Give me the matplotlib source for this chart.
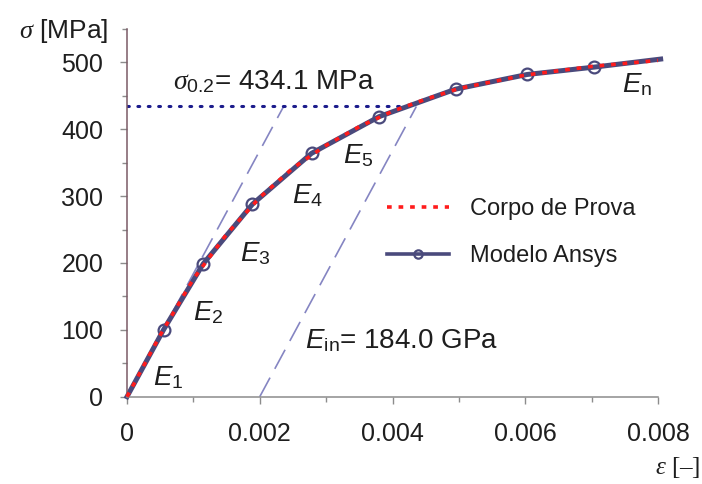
import matplotlib
matplotlib.use("Agg")
import matplotlib.pyplot as plt
from matplotlib.ticker import MultipleLocator, FuncFormatter

# Stress-strain data (strain [-], stress [MPa])
ansys_strain = [0.0, 0.00055, 0.00115, 0.00189, 0.00278, 0.0038, 0.00495, 0.00603, 0.00704, 0.00804]
ansys_stress = [0.0, 100.0, 199.0, 288.0, 364.0, 419.0, 460.0, 482.0, 493.0, 505.0]

specimen_strain = [0.0, 0.0005, 0.001, 0.0015, 0.002, 0.0025, 0.003, 0.0035, 0.004,
                   0.0045, 0.005, 0.006, 0.007, 0.008]
specimen_stress = [0.0, 92.0, 176.0, 243.0, 298.0, 342.0, 376.0, 404.0, 427.0,
                   445.0, 461.0, 481.0, 494.0, 503.0]

# Yield by the 0.2 % offset method
yield_stress = 434.1      # MPa
e_initial = 184000.0      # MPa (184.0 GPa)
offset = 0.002

x_ticks = [0.0, 0.002, 0.004, 0.006, 0.008]
x_tick_labels = ["0", "0.002", "0.004", "0.006", "0.008"]
y_ticks = [0, 100, 200, 300, 400, 500]

plt.rcParams["font.family"] = ["Liberation Sans", "DejaVu Sans"]
plt.rcParams["mathtext.fontset"] = "custom"
plt.rcParams["mathtext.rm"] = "Liberation Sans"
plt.rcParams["mathtext.it"] = "Liberation Serif:italic"
plt.rcParams["mathtext.sf"] = "Liberation Sans:italic"

fig = plt.figure(figsize=(7.02, 4.84), dpi=100)
ax = fig.add_axes([127 / 702, 1 - 396.7 / 484, (658 - 127) / 702, (396.7 - 29) / 484])

blue = "#4a4a7c"
red = "#ff1c1c"
dash_col = "#8585c2"
dot_col = "#1c1c8c"
txt_col = "#1e1e1e"

# Offset construction lines
y_end = yield_stress
ax.plot([0, y_end / e_initial], [0, y_end], color=dash_col, lw=1.2,
        dashes=(13, 6), zorder=1)
ax.plot([offset, offset + y_end / e_initial], [0, y_end], color=dash_col, lw=1.2,
        dashes=(13, 6), zorder=1)
ax.plot([0, 0.0041], [yield_stress, yield_stress], color=dot_col, lw=2.2,
        dashes=(0.6, 2.8), dash_capstyle="round", zorder=1)

# Curves
ax.plot(ansys_strain, ansys_stress, color=blue, lw=3.6, marker="o", ms=8.5,
        markevery=slice(1, -1), mfc="none", mec=blue, mew=1.6,
        label="Modelo Ansys", zorder=2, clip_on=False)
ax.plot(specimen_strain, specimen_stress, color=red, lw=2.6, dashes=(1.3, 1.9),
        label="Corpo de Prova", zorder=3, clip_on=False)

ax.set_xlim(0, 0.008)
ax.set_ylim(0, 550)
ax.set_xticks(x_ticks)
ax.xaxis.set_major_formatter(FuncFormatter(lambda v, p: x_tick_labels[x_ticks.index(round(v, 3))]
                                           if round(v, 3) in x_ticks else ""))
ax.set_yticks(y_ticks)
ax.xaxis.set_minor_locator(MultipleLocator(0.001))
ax.yaxis.set_minor_locator(MultipleLocator(50))

for s in ["top", "right"]:
    ax.spines[s].set_visible(False)
for s in ["left", "bottom"]:
    ax.spines[s].set_color("#8c8c8c")
    ax.spines[s].set_linewidth(1.1)
ax.spines["left"].set_color("#7a5a66")

ax.tick_params(which="major", length=5, width=1.0, color="#8c8c8c",
               labelsize=18, labelcolor=txt_col, direction="out")
ax.tick_params(which="minor", length=3.5, width=1.0, color="#8c8c8c", direction="out")
ax.tick_params(axis="x", which="major", pad=13)
ax.tick_params(axis="y", which="major", pad=12)

# Axis titles
fig.text(108 / 702, 1 - 31 / 484, r"$\sigma$ [MPa]", ha="right", va="center",
         fontsize=19, color=txt_col)
fig.text(700 / 702, 1 - 468 / 484, r"$\varepsilon$ [–]", ha="right", va="center",
         fontsize=18, color=txt_col, family="Liberation Serif")

# Segment labels
seg_labels = [
    (r"$\mathsf{E}_{\mathrm{1}}$", 0.000395, 17),
    (r"$\mathsf{E}_{\mathrm{2}}$", 0.0010, 115),
    (r"$\mathsf{E}_{\mathrm{3}}$", 0.0017, 203),
    (r"$\mathsf{E}_{\mathrm{4}}$", 0.00248, 289),
    (r"$\mathsf{E}_{\mathrm{5}}$", 0.00326, 350),
    (r"$\mathsf{E}_{\mathrm{n}}$", 0.00746, 455),
]
for txt, xs, ys in seg_labels:
    ax.text(xs, ys, txt, fontsize=20, color=txt_col, ha="left", va="baseline")

ax.text(0.00268, 73, r"$\mathsf{E}_{\mathrm{in}}$= %.1f GPa" % (e_initial / 1000),
        fontsize=20, color=txt_col, ha="left", va="baseline")
ax.text(0.0007, 460, r"$\sigma_{\mathrm{0.2}}$= %.1f MPa" % yield_stress,
        fontsize=20, color=txt_col, ha="left", va="baseline")

# Legend
handles, labels = ax.get_legend_handles_labels()
leg = ax.legend(handles[::-1], labels[::-1], loc="upper left",
                bbox_to_anchor=(0.49, 0.54), frameon=False, fontsize=17,
                handlelength=2.6, handletextpad=0.9, labelspacing=1.05,
                borderpad=0, borderaxespad=0)
for t in leg.get_texts():
    t.set_color(txt_col)
leg.legend_handles[1].set_markersize(6)
leg.legend_handles[1].set_linewidth(2.6)

fig.savefig("out.png", dpi=100)
